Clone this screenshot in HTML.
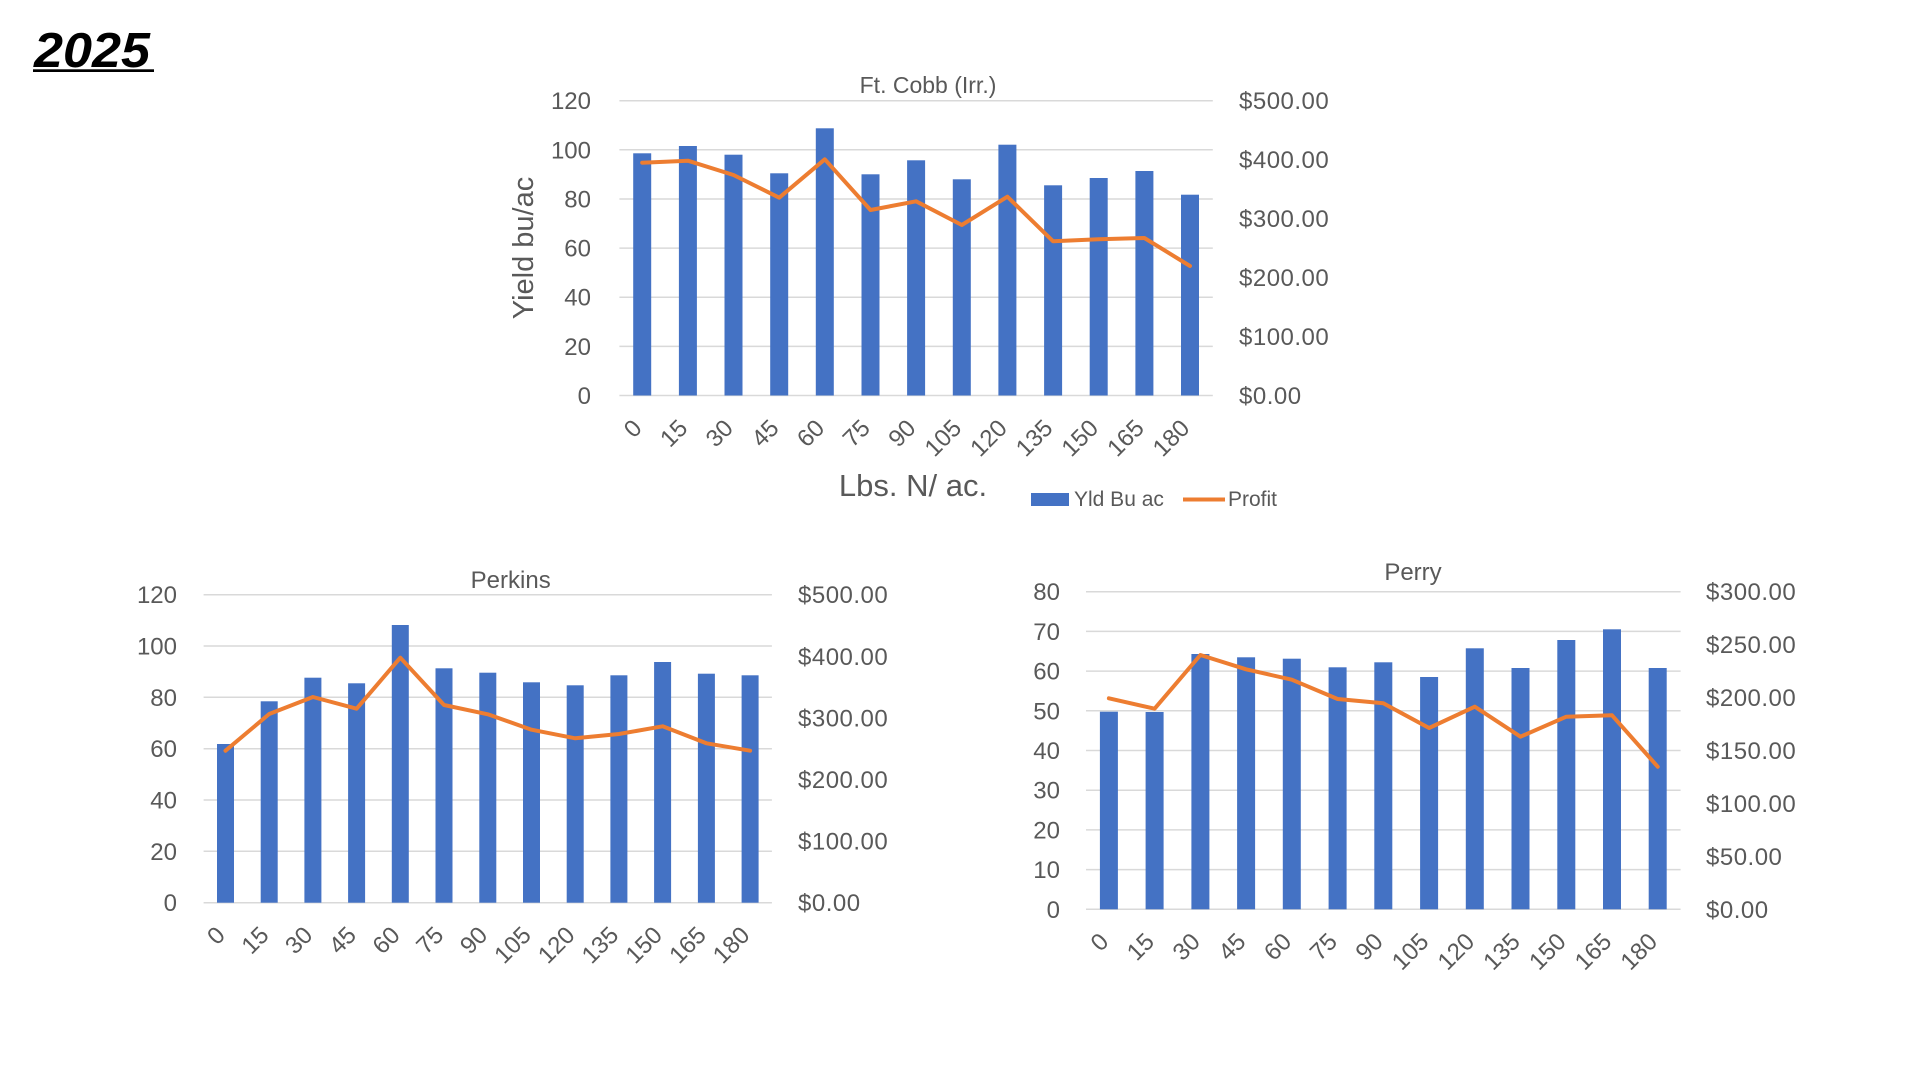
<!DOCTYPE html>
<html>
<head>
<meta charset="utf-8">
<style>
html,body{margin:0;padding:0;background:#fff;}
body{width:1920px;height:1080px;overflow:hidden;}
svg{display:block;}
text{font-family:"Liberation Sans",Arial,sans-serif;}
.t{font-size:24px;fill:#595959;}
.ttl{font-size:24px;fill:#595959;}
.g{stroke:#D9D9D9;stroke-width:1.5;}
.b{fill:#4472C4;}
.p{fill:none;stroke:#ED7D31;stroke-width:4;stroke-linejoin:round;stroke-linecap:round;}
.r{letter-spacing:0.5px;}
</style>
</head>
<body>
<svg width="1920" height="1080" viewBox="0 0 1920 1080" xmlns="http://www.w3.org/2000/svg">
<rect width="1920" height="1080" fill="#fff"/>

<!-- Title 2025 -->
<text x="34" y="67" textLength="116" lengthAdjust="spacingAndGlyphs" style="font-size:49px;font-weight:bold;font-style:italic;fill:#000;">2025</text>
<rect x="33" y="69.3" width="121" height="2.7" fill="#000"/>

<!-- ================= Chart 1: Ft. Cobb ================= -->
<text class="ttl" x="928" y="93" text-anchor="middle" style="font-size:23px">Ft. Cobb (Irr.)</text>
<g>
<line class="g" x1="619.4" x2="1212.8" y1="100.7" y2="100.7"/>
<line class="g" x1="619.4" x2="1212.8" y1="149.8" y2="149.8"/>
<line class="g" x1="619.4" x2="1212.8" y1="199.0" y2="199.0"/>
<line class="g" x1="619.4" x2="1212.8" y1="248.1" y2="248.1"/>
<line class="g" x1="619.4" x2="1212.8" y1="297.2" y2="297.2"/>
<line class="g" x1="619.4" x2="1212.8" y1="346.4" y2="346.4"/>
<line class="g" x1="619.4" x2="1212.8" y1="395.5" y2="395.5"/>
</g>
<g class="t" text-anchor="end">
<text x="591" y="109.2">120</text>
<text x="591" y="158.3">100</text>
<text x="591" y="207.5">80</text>
<text x="591" y="256.6">60</text>
<text x="591" y="305.7">40</text>
<text x="591" y="354.9">20</text>
<text x="591" y="404.0">0</text>
</g>
<g class="t r" text-anchor="start">
<text x="1239" y="109.2">$500.00</text>
<text x="1239" y="168.2">$400.00</text>
<text x="1239" y="227.1">$300.00</text>
<text x="1239" y="286.1">$200.00</text>
<text x="1239" y="345.0">$100.00</text>
<text x="1239" y="404.0">$0.00</text>
</g>
<g>
<rect class="b" x="633.2" y="153.3" width="18" height="242.2"/>
<rect class="b" x="678.9" y="146" width="18" height="249.5"/>
<rect class="b" x="724.5" y="154.7" width="18" height="240.8"/>
<rect class="b" x="770.2" y="173.3" width="18" height="222.2"/>
<rect class="b" x="815.8" y="128.3" width="18" height="267.2"/>
<rect class="b" x="861.5" y="174.3" width="18" height="221.2"/>
<rect class="b" x="907.1" y="160.3" width="18" height="235.2"/>
<rect class="b" x="952.8" y="179.3" width="18" height="216.2"/>
<rect class="b" x="998.4" y="144.7" width="18" height="250.8"/>
<rect class="b" x="1044.1" y="185.3" width="18" height="210.2"/>
<rect class="b" x="1089.7" y="178" width="18" height="217.5"/>
<rect class="b" x="1135.4" y="171" width="18" height="224.5"/>
<rect class="b" x="1181.0" y="194.7" width="18" height="200.8"/>
</g>
<polyline class="p" points="642.2,162.7 687.9,160.7 733.5,175 779.2,197.7 824.8,159.3 870.5,210 916.1,201.3 961.8,225 1007.4,196.7 1053.1,241.3 1098.7,239.3 1144.4,238 1190.0,266"/>
<g class="t" text-anchor="end">
<text transform="translate(643.2,429.5) rotate(-45)">0</text>
<text transform="translate(688.9,429.5) rotate(-45)">15</text>
<text transform="translate(734.5,429.5) rotate(-45)">30</text>
<text transform="translate(780.2,429.5) rotate(-45)">45</text>
<text transform="translate(825.8,429.5) rotate(-45)">60</text>
<text transform="translate(871.5,429.5) rotate(-45)">75</text>
<text transform="translate(917.1,429.5) rotate(-45)">90</text>
<text transform="translate(962.8,429.5) rotate(-45)">105</text>
<text transform="translate(1008.4,429.5) rotate(-45)">120</text>
<text transform="translate(1054.1,429.5) rotate(-45)">135</text>
<text transform="translate(1099.7,429.5) rotate(-45)">150</text>
<text transform="translate(1145.4,429.5) rotate(-45)">165</text>
<text transform="translate(1191.0,429.5) rotate(-45)">180</text>
</g>
<text transform="translate(533,248) rotate(-90)" text-anchor="middle" style="font-size:29px;fill:#595959;">Yield bu/ac</text>
<text x="913" y="496" text-anchor="middle" style="font-size:31px;fill:#595959;">Lbs. N/ ac.</text>
<rect x="1031" y="493" width="38" height="13" fill="#4472C4"/>
<text x="1074" y="506" style="font-size:21px;fill:#595959;">Yld Bu ac</text>
<line x1="1183" x2="1225" y1="499.5" y2="499.5" stroke="#ED7D31" stroke-width="4"/>
<text x="1228" y="506" style="font-size:21px;fill:#595959;">Profit</text>

<!-- ================= Chart 2: Perkins ================= -->
<text class="ttl" x="510.7" y="588" text-anchor="middle">Perkins</text>
<g>
<line class="g" x1="203.6" x2="771.9" y1="594.7" y2="594.7"/>
<line class="g" x1="203.6" x2="771.9" y1="646.0" y2="646.0"/>
<line class="g" x1="203.6" x2="771.9" y1="697.3" y2="697.3"/>
<line class="g" x1="203.6" x2="771.9" y1="748.7" y2="748.7"/>
<line class="g" x1="203.6" x2="771.9" y1="800.0" y2="800.0"/>
<line class="g" x1="203.6" x2="771.9" y1="851.3" y2="851.3"/>
<line class="g" x1="203.6" x2="771.9" y1="902.7" y2="902.7"/>
</g>
<g class="t" text-anchor="end">
<text x="177" y="603.2">120</text>
<text x="177" y="654.5">100</text>
<text x="177" y="705.8">80</text>
<text x="177" y="757.2">60</text>
<text x="177" y="808.5">40</text>
<text x="177" y="859.8">20</text>
<text x="177" y="911.2">0</text>
</g>
<g class="t r" text-anchor="start">
<text x="798" y="603.2">$500.00</text>
<text x="798" y="664.8">$400.00</text>
<text x="798" y="726.4">$300.00</text>
<text x="798" y="788.0">$200.00</text>
<text x="798" y="849.6">$100.00</text>
<text x="798" y="911.2">$0.00</text>
</g>
<g>
<rect class="b" x="217.0" y="744" width="17" height="158.7"/>
<rect class="b" x="260.7" y="701.3" width="17" height="201.4"/>
<rect class="b" x="304.4" y="677.7" width="17" height="225.0"/>
<rect class="b" x="348.1" y="683.3" width="17" height="219.4"/>
<rect class="b" x="391.8" y="625" width="17" height="277.7"/>
<rect class="b" x="435.5" y="668.3" width="17" height="234.4"/>
<rect class="b" x="479.3" y="672.7" width="17" height="230.0"/>
<rect class="b" x="523.0" y="682.3" width="17" height="220.4"/>
<rect class="b" x="566.7" y="685.3" width="17" height="217.4"/>
<rect class="b" x="610.4" y="675.3" width="17" height="227.4"/>
<rect class="b" x="654.1" y="662" width="17" height="240.7"/>
<rect class="b" x="697.9" y="673.7" width="17" height="229.0"/>
<rect class="b" x="741.6" y="675.3" width="17" height="227.4"/>
</g>
<polyline class="p" points="225.5,750.7 269.2,714 312.9,697 356.6,708.7 400.3,657.7 444.0,705 487.8,714.3 531.5,729.7 575.2,738.3 618.9,734 662.6,726.3 706.4,743.3 750.1,750.7"/>
<g class="t" text-anchor="end">
<text transform="translate(226.5,936.5) rotate(-45)">0</text>
<text transform="translate(270.2,936.5) rotate(-45)">15</text>
<text transform="translate(313.9,936.5) rotate(-45)">30</text>
<text transform="translate(357.6,936.5) rotate(-45)">45</text>
<text transform="translate(401.3,936.5) rotate(-45)">60</text>
<text transform="translate(445.0,936.5) rotate(-45)">75</text>
<text transform="translate(488.8,936.5) rotate(-45)">90</text>
<text transform="translate(532.5,936.5) rotate(-45)">105</text>
<text transform="translate(576.2,936.5) rotate(-45)">120</text>
<text transform="translate(619.9,936.5) rotate(-45)">135</text>
<text transform="translate(663.6,936.5) rotate(-45)">150</text>
<text transform="translate(707.4,936.5) rotate(-45)">165</text>
<text transform="translate(751.1,936.5) rotate(-45)">180</text>
</g>

<!-- ================= Chart 3: Perry ================= -->
<text class="ttl" x="1413" y="580" text-anchor="middle">Perry</text>
<g>
<line class="g" x1="1086" x2="1680.6" y1="591.7" y2="591.7"/>
<line class="g" x1="1086" x2="1680.6" y1="631.4" y2="631.4"/>
<line class="g" x1="1086" x2="1680.6" y1="671.1" y2="671.1"/>
<line class="g" x1="1086" x2="1680.6" y1="710.8" y2="710.8"/>
<line class="g" x1="1086" x2="1680.6" y1="750.5" y2="750.5"/>
<line class="g" x1="1086" x2="1680.6" y1="790.2" y2="790.2"/>
<line class="g" x1="1086" x2="1680.6" y1="829.9" y2="829.9"/>
<line class="g" x1="1086" x2="1680.6" y1="869.6" y2="869.6"/>
<line class="g" x1="1086" x2="1680.6" y1="909.3" y2="909.3"/>
</g>
<g class="t" text-anchor="end">
<text x="1060" y="600.2">80</text>
<text x="1060" y="639.9">70</text>
<text x="1060" y="679.6">60</text>
<text x="1060" y="719.3">50</text>
<text x="1060" y="759.0">40</text>
<text x="1060" y="798.7">30</text>
<text x="1060" y="838.4">20</text>
<text x="1060" y="878.1">10</text>
<text x="1060" y="917.8">0</text>
</g>
<g class="t r" text-anchor="start">
<text x="1706" y="600.2">$300.00</text>
<text x="1706" y="653.1">$250.00</text>
<text x="1706" y="706.1">$200.00</text>
<text x="1706" y="759.0">$150.00</text>
<text x="1706" y="811.9">$100.00</text>
<text x="1706" y="864.9">$50.00</text>
<text x="1706" y="917.8">$0.00</text>
</g>
<g>
<rect class="b" x="1099.9" y="711.7" width="18" height="197.6"/>
<rect class="b" x="1145.6" y="712" width="18" height="197.3"/>
<rect class="b" x="1191.4" y="654" width="18" height="255.3"/>
<rect class="b" x="1237.1" y="657.3" width="18" height="252.0"/>
<rect class="b" x="1282.8" y="658.7" width="18" height="250.6"/>
<rect class="b" x="1328.6" y="667.3" width="18" height="242.0"/>
<rect class="b" x="1374.3" y="662.3" width="18" height="247.0"/>
<rect class="b" x="1420.1" y="677" width="18" height="232.3"/>
<rect class="b" x="1465.8" y="648.3" width="18" height="261.0"/>
<rect class="b" x="1511.5" y="668" width="18" height="241.3"/>
<rect class="b" x="1557.3" y="640" width="18" height="269.3"/>
<rect class="b" x="1603.0" y="629.3" width="18" height="280.0"/>
<rect class="b" x="1648.7" y="668" width="18" height="241.3"/>
</g>
<polyline class="p" points="1108.9,698.3 1154.6,708.7 1200.4,655 1246.1,669.3 1291.8,679.7 1337.6,699 1383.3,703.3 1429.1,728 1474.8,706.7 1520.5,736.7 1566.3,716.7 1612.0,715.3 1657.7,766.7"/>
<g class="t" text-anchor="end">
<text transform="translate(1109.9,943) rotate(-45)">0</text>
<text transform="translate(1155.6,943) rotate(-45)">15</text>
<text transform="translate(1201.4,943) rotate(-45)">30</text>
<text transform="translate(1247.1,943) rotate(-45)">45</text>
<text transform="translate(1292.8,943) rotate(-45)">60</text>
<text transform="translate(1338.6,943) rotate(-45)">75</text>
<text transform="translate(1384.3,943) rotate(-45)">90</text>
<text transform="translate(1430.1,943) rotate(-45)">105</text>
<text transform="translate(1475.8,943) rotate(-45)">120</text>
<text transform="translate(1521.5,943) rotate(-45)">135</text>
<text transform="translate(1567.3,943) rotate(-45)">150</text>
<text transform="translate(1613.0,943) rotate(-45)">165</text>
<text transform="translate(1658.7,943) rotate(-45)">180</text>
</g>
</svg>
</body>
</html>
